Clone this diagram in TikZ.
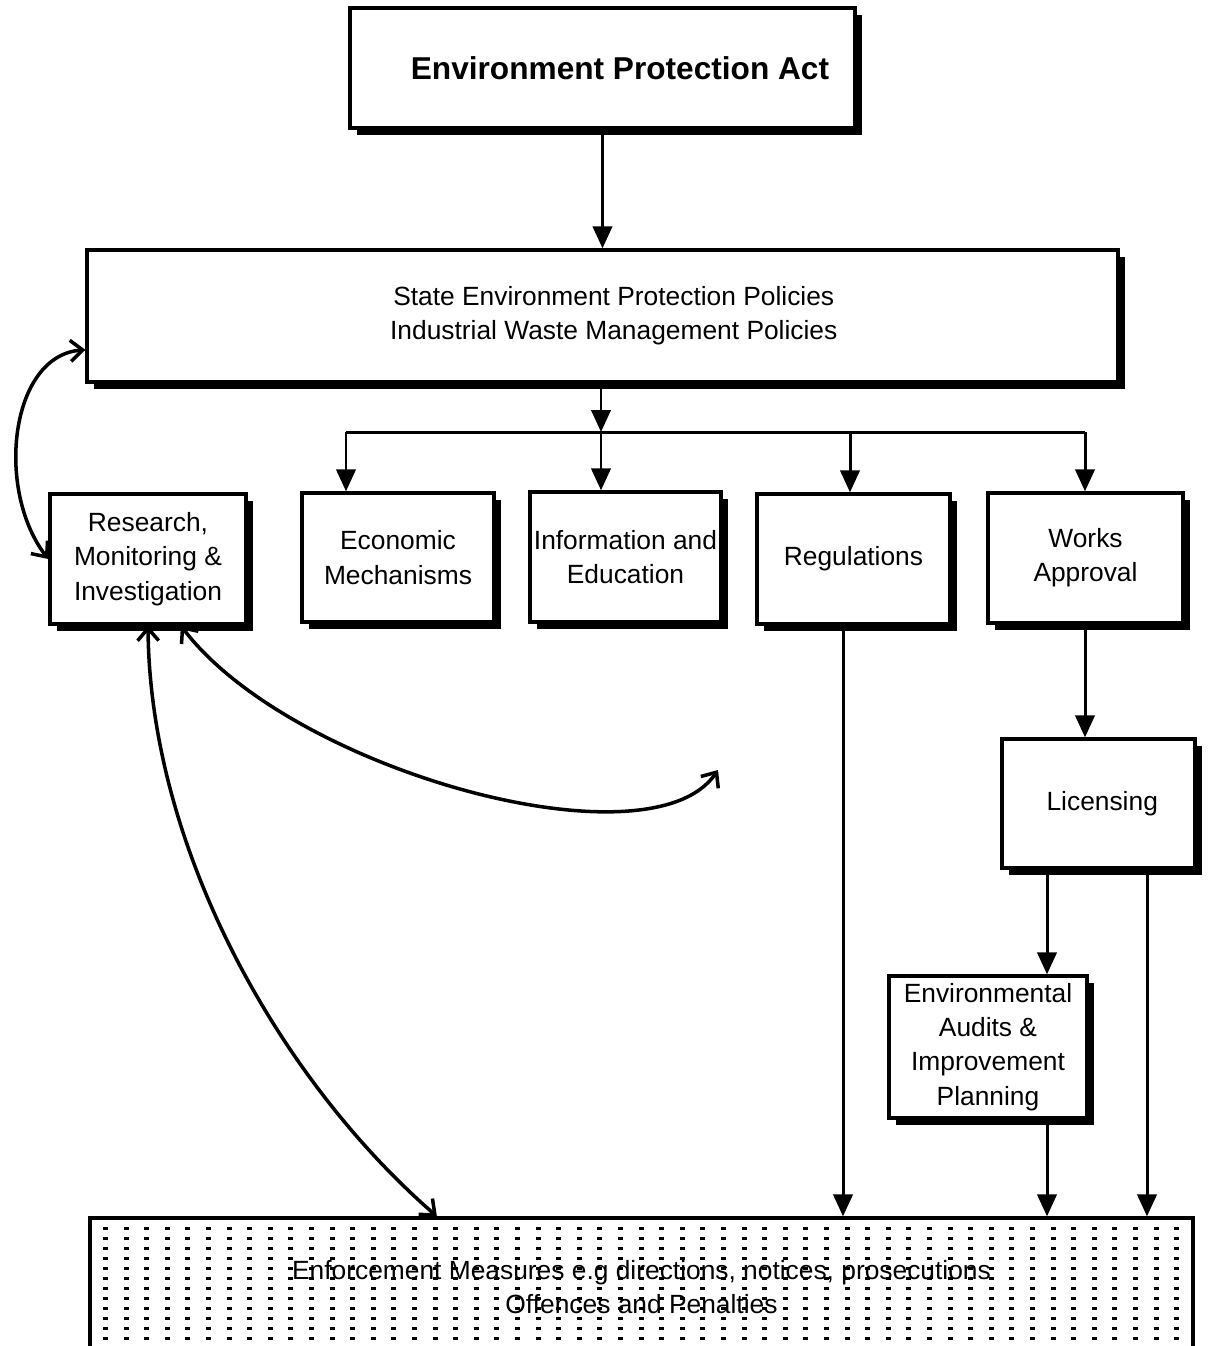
\documentclass[tikz,border=0pt]{standalone}
\usepackage{fontspec}
\setmainfont{Liberation Sans}
\usetikzlibrary{arrows.meta,shadows,calc}
\tikzset{
  sbox/.style={draw, line width=1.9pt, fill=white, align=center,
    font=\fontsize{15}{19.5}\selectfont,
    general shadow={fill=black, shadow xshift=4pt, shadow yshift=-4pt}},
  arr/.style={line width=1.7pt, -{Triangle[length=12.5pt,width=11pt]}},
  conn/.style={line width=1.7pt},
  curv/.style={line width=2pt,
    {Straight Barb[length=7pt,width=12pt]}-{Straight Barb[length=7pt,width=12pt]}},
  dotmark/.style={fill=black},
}
\begin{document}
\begin{tikzpicture}[x=0.02cm,y=-0.02cm]
\useasboundingbox (0,0) rectangle (1208,1346);

% boxes
\node[sbox, minimum width=10.1cm, minimum height=2.4cm,
  font=\bfseries\fontsize{18}{22}\selectfont] (epa) at (602.5,68) {\hspace*{0.7cm}Environment Protection Act};
\node[sbox, minimum width=20.62cm, minimum height=2.64cm] (pol) at (602.5,316)
  {\hspace*{0.45cm}State Environment Protection Policies\\\hspace*{0.45cm}Industrial Waste Management Policies};
\node[sbox, minimum width=3.92cm, minimum height=2.6cm] (res) at (148,559)
  {Research,\\Monitoring \&\\Investigation};
\node[sbox, minimum width=3.84cm, minimum height=2.58cm] (eco) at (398,557.5)
  {Economic\\Mechanisms};
\node[sbox, minimum width=3.82cm, minimum height=2.6cm, inner sep=1pt] (info) at (625.5,557)
  {Information and\\Education};
\node[sbox, minimum width=3.86cm, minimum height=2.6cm] (reg) at (853.5,559)
  {Regulations};
\node[sbox, minimum width=3.9cm, minimum height=2.6cm] (works) at (1085.5,558)
  {Works\\Approval};
\node[sbox, minimum width=3.86cm, minimum height=2.58cm] (lic) at (1098.5,803.5)
  {\hspace*{0.15cm}Licensing};
\node[sbox, minimum width=3.96cm, minimum height=2.84cm] (aud) at (988,1047)
  {Environmental\\Audits \&\\Improvement\\Planning};

% dotted enforcement box
\foreach \i in {0,...,52}{
  \foreach \j in {0,...,11}{
    \fill[dotmark] (103+\i*20.6,1227+\j*10) rectangle ++(5,3);
  }
}
\node[draw, line width=1.9pt, align=center, minimum width=22.06cm, minimum height=2.76cm,
  font=\fontsize{15}{19.5}\selectfont] (enf) at (641.5,1287)
  {Enforcement Measures e.g directions, notices, prosecutions\\Offences and Penalties};

% straight connectors
\draw[arr] (epa.south) -- (pol.north);
\coordinate (b1) at (346,432);
\coordinate (b2) at (601,432);
\coordinate (b3) at (850,432);
\coordinate (b4) at (1085,432);
\draw[arr] (pol.south -| b2) -- (b2);
\draw[conn] (b1) -- (b4);
\draw[arr] (b1) -- (b1 |- eco.north);
\draw[arr] (b2) -- (b2 |- info.north);
\draw[arr] (b3) -- (b3 |- reg.north);
\draw[arr] (b4) -- (b4 |- works.north);
\draw[arr] (works.south -| b4) -- (lic.north -| b4);

\coordinate (xr) at (843,0);
\coordinate (xa) at (1047,0);
\coordinate (xl) at (1147,0);
\draw[arr] (reg.south -| xr) -- (enf.north -| xr);
\draw[arr] (lic.south -| xa) -- (aud.north -| xa);
\draw[arr] (aud.south -| xa) -- (enf.north -| xa);
\draw[arr] (lic.south -| xl) -- (enf.north -| xl);

% curved connectors
\draw[curv] ($(pol.west)!0.5!(pol.south west)$) .. controls (10,355) and (-5,490) .. (res.west);
\coordinate (free) at (718,770);
\draw[curv] ($(res.south)!0.33!(res.south east)$) .. controls (290,770) and (650,870) .. (free);
\draw[curv] (res.south) .. controls (150,850) and (280,1080) .. ($(enf.north west)!0.315!(enf.north east)$);
\end{tikzpicture}
\end{document}
